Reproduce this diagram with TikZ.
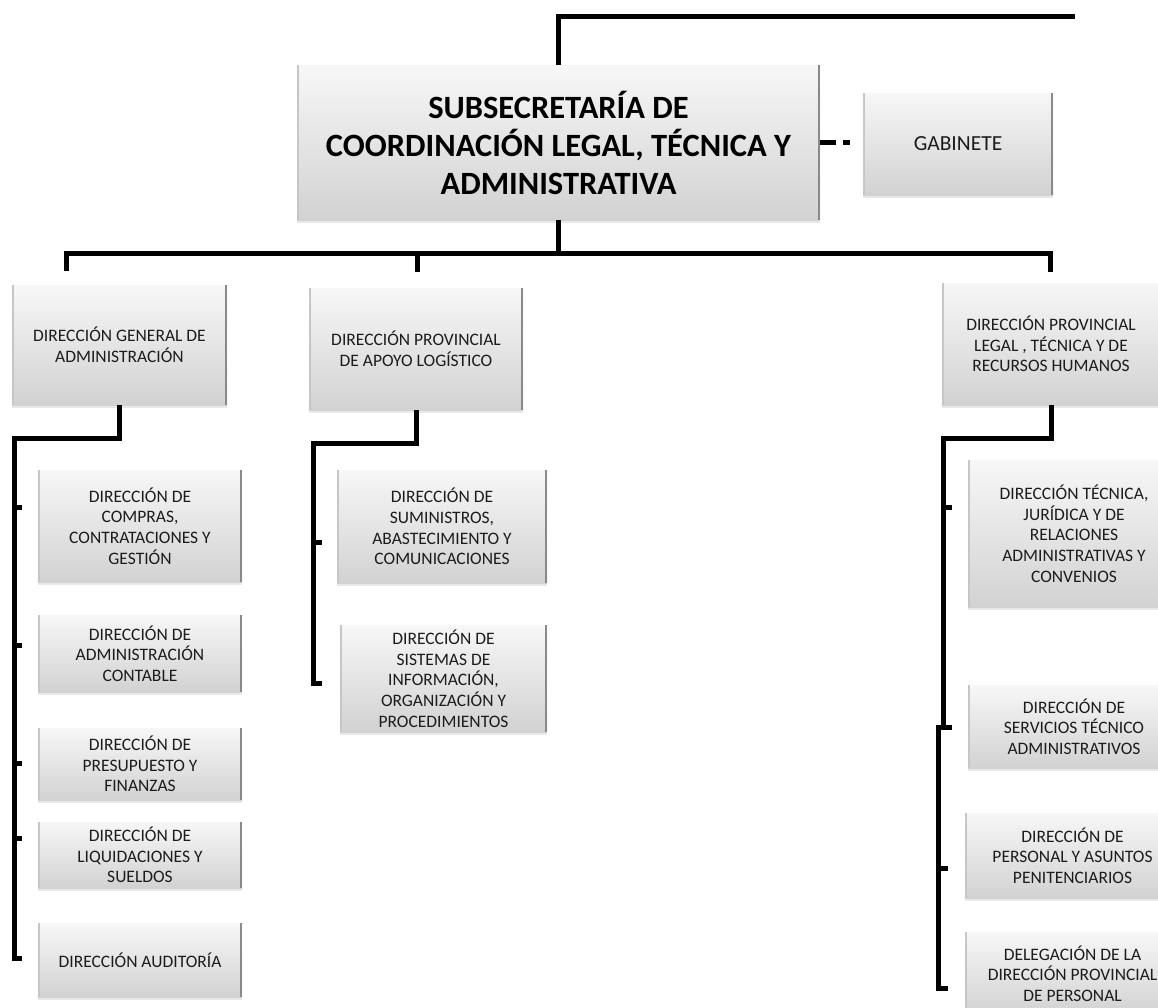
\documentclass[tikz,border=0pt]{standalone}
\usepackage{fontspec}
\setmainfont{Carlito}
\usetikzlibrary{calc,shadows}
\definecolor{boxtop}{HTML}{F7F7F7}
\definecolor{boxmid}{HTML}{E8E8E8}
\definecolor{boxbot}{HTML}{D2D2D2}
\definecolor{edgeR}{HTML}{8A8A8A}
\definecolor{edgeL}{HTML}{C6C6C6}
\definecolor{txt}{HTML}{1C1C1C}
\begin{document}
\begin{tikzpicture}[x=1pt, y=-1pt,
  box/.style={shading=axis, top color=boxtop, middle color=boxmid, bottom color=boxbot,
    draw=none, align=center, inner sep=0pt, text=txt,
    drop shadow={shadow xshift=0pt, shadow yshift=-3pt, opacity=0.18, fill=gray},
    font=\fontsize{17.5}{20.7}\selectfont,
    path picture={
      \fill[edgeR] ([xshift=-2.5pt]path picture bounding box.north east) rectangle (path picture bounding box.south east);
      \fill[edgeL] (path picture bounding box.north west) rectangle ([xshift=1.5pt]path picture bounding box.south west);}},
  conn/.style={line width=5pt, black, line cap=butt}]
\path[use as bounding box] (0,0) rectangle (1158,1007);
\clip (0,0) rectangle (1158,1007);
\fill[white] (0,0) rectangle (1158,1007);

% top level
\node[box, minimum width=523pt, minimum height=155pt, text=black,
  font=\fontsize{32.5}{38}\selectfont\bfseries] (main) at (558.5,142.5)
  {SUBSECRETARÍA DE\\COORDINACIÓN LEGAL, TÉCNICA Y\\ADMINISTRATIVA};
\node[box, minimum width=190pt, minimum height=102pt, font=\fontsize{21.5}{25}\selectfont] (gab) at (958,144) {GABINETE};

% second level
\node[box, minimum width=215pt, minimum height=120pt] (dga) at (119.5,345)
  {DIRECCIÓN GENERAL DE\\ADMINISTRACIÓN};
\node[box, minimum width=214pt, minimum height=122pt] (dpal) at (416,349)
  {DIRECCIÓN PROVINCIAL\\DE APOYO LOGÍSTICO};
\node[box, minimum width=218pt, minimum height=122pt] (dpl) at (1051,344)
  {DIRECCIÓN PROVINCIAL\\LEGAL , TÉCNICA Y DE\\RECURSOS HUMANOS};

% left column
\node[box, minimum width=204pt, minimum height=112pt] (compras) at (140,526)
  {DIRECCIÓN DE\\COMPRAS,\\CONTRATACIONES Y\\GESTIÓN};
\node[box, minimum width=204pt, minimum height=77pt] (contable) at (140,653.5)
  {DIRECCIÓN DE\\ADMINISTRACIÓN\\CONTABLE};
\node[box, minimum width=204pt, minimum height=72pt] (presup) at (140,764)
  {DIRECCIÓN DE\\PRESUPUESTO Y\\FINANZAS};
\node[box, minimum width=204pt, minimum height=66pt] (liquid) at (140,855)
  {DIRECCIÓN DE\\LIQUIDACIONES Y\\SUELDOS};
\node[box, minimum width=204pt, minimum height=74pt] (audit) at (140,960)
  {DIRECCIÓN AUDITORÍA};

% middle column
\node[box, minimum width=210pt, minimum height=113pt] (sumin) at (442,526.5)
  {DIRECCIÓN DE\\SUMINISTROS,\\ABASTECIMIENTO Y\\COMUNICACIONES};
\node[box, minimum width=207pt, minimum height=107pt] (sist) at (443.5,678.5)
  {DIRECCIÓN DE\\SISTEMAS DE\\INFORMACIÓN,\\ORGANIZACIÓN Y\\PROCEDIMIENTOS};

% right column
\node[box, minimum width=212pt, minimum height=147pt] (tecn) at (1074,533.5)
  {DIRECCIÓN TÉCNICA,\\JURÍDICA Y DE\\RELACIONES\\ADMINISTRATIVAS Y\\CONVENIOS};
\node[box, minimum width=212pt, minimum height=83pt] (serv) at (1074,726.5)
  {DIRECCIÓN DE\\SERVICIOS TÉCNICO\\ADMINISTRATIVOS};
\node[box, minimum width=215pt, minimum height=85pt] (pers) at (1072.5,855.5)
  {DIRECCIÓN DE\\PERSONAL Y ASUNTOS\\PENITENCIARIOS};
\node[box, minimum width=215pt, minimum height=83pt] (deleg) at (1072.5,973.5)
  {DELEGACIÓN DE LA\\DIRECCIÓN PROVINCIAL\\DE PERSONAL};

% connectors: top
\coordinate (topend) at (1075,16);
\draw[conn] (main.north) |- (topend);
\draw[conn, dash pattern=on 16pt off 7pt on 7pt off 40pt] (main.east) -- (main.east -| gab.west);

% bus
\coordinate (bus) at (558.5,253);
\coordinate (dropL) at (66,271);
\coordinate (dropM) at (417,272);
\coordinate (dropR) at (1050,272);
\draw[conn] (main.south) -- (bus);
\draw[conn] (dropL) |- (bus) -| (dropR);
\draw[conn] (dropM) -- (dropM |- bus);

% left tree
\coordinate (lc) at (14,438);
\coordinate (lb) at (22,958);
\draw[conn] (dga.south) |- (lc) |- (lb);
\coordinate (lt1) at (22,507);
\coordinate (lt2) at (22,645);
\coordinate (lt3) at (22,763);
\coordinate (lt4) at (22,838);
\foreach \t in {lt1,lt2,lt3,lt4} \draw[conn] (\t -| lc) -- (\t);

% middle tree
\coordinate (mc) at (313,443);
\coordinate (mb) at (322,683);
\draw[conn] (dpal.south) |- (mc) |- (mb);
\coordinate (mt1) at (322,542);
\draw[conn] (mt1 -| mc) -- (mt1);

% right tree
\coordinate (rc) at (943,438);
\coordinate (rb) at (952,727);
\draw[conn] (dpl.south) |- (rc) |- (rb);
\coordinate (rt1) at (952,507);
\draw[conn] (rt1 -| rc) -- (rt1);
\coordinate (r2top) at (938,727);
\coordinate (r2b) at (948,988);
\draw[conn] (rb) -- (r2top) |- (r2b);
\coordinate (rt2) at (948,868);
\draw[conn] (rt2 -| r2top) -- (rt2);
\end{tikzpicture}
\end{document}
